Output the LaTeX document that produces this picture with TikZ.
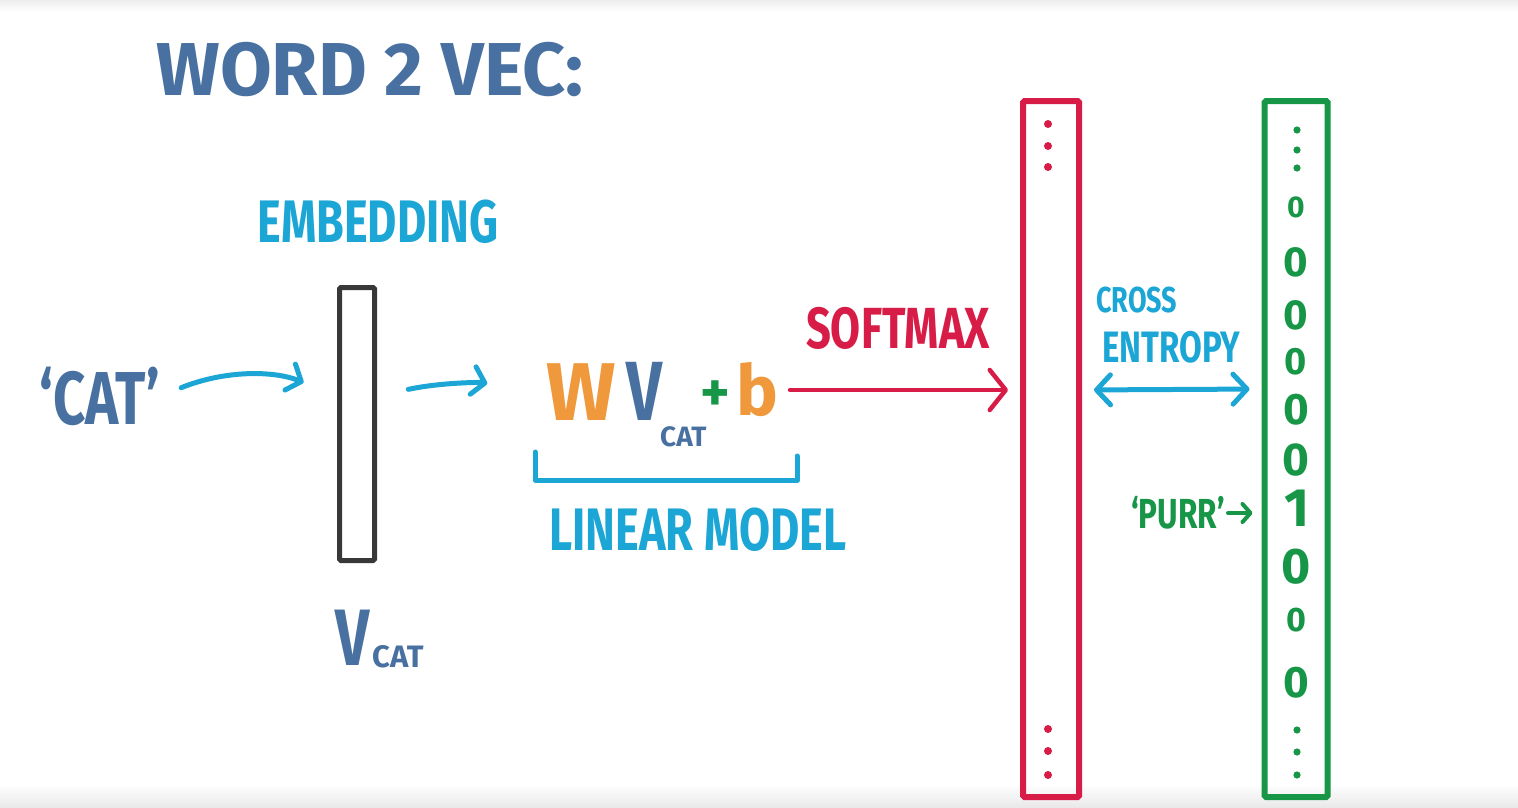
\documentclass[tikz,border=0pt]{standalone}
\usepackage{fontspec}
\usepackage{xcolor}
\setmainfont{Fira Sans}
\newfontfamily\titlefont{Fira Sans}
\newfontfamily\handfont[FakeStretch=0.75]{Fira Sans}
\usetikzlibrary{arrows.meta}

\definecolor{wblue}{RGB}{72,112,160}
\definecolor{wcyan}{RGB}{28,166,214}
\definecolor{worange}{RGB}{240,152,60}
\definecolor{wgreen}{RGB}{22,150,70}
\definecolor{wred}{RGB}{216,28,72}
\definecolor{wgray}{RGB}{56,56,56}

\newcommand{\fsz}[1]{\fontsize{#1}{#1}\selectfont}

\begin{document}
\begin{tikzpicture}[x=1pt,y=-1pt,
  hand/.style={inner sep=0pt, font=\handfont\bfseries},
  plain/.style={inner sep=0pt, font=\titlefont\bfseries},
  vecbox/.style={draw, line width=5pt, inner sep=0pt, rounded corners=1.5pt},
  flow/.style={wcyan, line width=5pt, line cap=round,
    -{Straight Barb[length=12pt,width=28pt,line width=5pt,round]}},
  dotcol/.style={radius=4pt}]
\useasboundingbox (0,0) rectangle (1518,808);
\shade[top color=black!7, bottom color=white] (0,0) rectangle (1518,12);
\shade[top color=white, bottom color=black!9] (0,784) rectangle (1518,808);

% Title
\node[plain, wblue] (title) at (370,70) {\fsz{75}WORD 2 VEC:};

% Input word and embedding vector
\node[hand, wblue] (cat) at (100,396) {\fsz{75}‘CAT’};
\node[hand, wcyan] (embtxt) at (378,222) {\fsz{60}EMBEDDING};
\node[vecbox, wgray, minimum width=35, minimum height=273] (emb) at (357,424) {};
\node[hand, wblue, anchor=base west] (vemb) at (335,665) {\fsz{80}V};
\node[plain, wblue, anchor=base west] (vembsub) at (372,667) {\fsz{31}CAT};

% Linear model W V + b
\node[plain, worange, anchor=base west] (w) at (546,420) {\fsz{82}W};
\node[hand, wblue, anchor=base west] (vlin) at (626,420) {\fsz{84}V};
\node[plain, wblue, anchor=base west] (vlinsub) at (660,446) {\fsz{28}CAT};
\node[plain, wgreen] (plus) at (715,396) {\fsz{56}+};
\node[plain, worange, anchor=base west] (bias) at (736,415) {\fsz{70}b};
\draw[wcyan, line width=5pt, line cap=round, line join=round]
  (535,452) -- (535,480) -- (797,480) -- (797,456);
\node[hand, wcyan] (lintxt) at (698,530) {\fsz{60}LINEAR MODEL};

% Softmax vector
\node[vecbox, wred, line width=6pt, minimum width=56, minimum height=696] (soft) at (1051,449) {};
\foreach \y in {124,146,167,729,751,775}
  \fill[wred] (1048,\y) circle[dotcol];
\coordinate (smin) at (790,390);
\node[hand, wred] (smtxt) at (898,328) {\fsz{58}SOFTMAX};

% One-hot target vector
\node[vecbox, wgreen, line width=6pt, minimum width=63, minimum height=696] (target) at (1296,449) {};
\foreach \y in {130,150,168,730,752,775}
  \fill[wgreen] (1297,\y) circle[radius=3.6pt];
\foreach \y/\s in {207/30, 262/42, 315/42, 362/38, 410/44, 460/46, 567/50, 620/34, 683/44}
  \node[plain, wgreen] at (1296,\y) {\fsz{\s}0};
\node[plain, wgreen] (one) at (1297,508) {\fsz{54}1};
\node[hand, wgreen] (purr) at (1178,513) {\fsz{42}‘PURR’};

% Cross entropy
\node[hand, wcyan, anchor=west] (cross) at (1096,300) {\fsz{36}CROSS};
\node[hand, wcyan, anchor=west] (entropy) at (1102,347) {\fsz{44}ENTROPY};

% Arrows
\draw[flow, shorten <=22pt, shorten >=36pt] (cat.east) to[bend left=22] (emb.west |- cat.east);
\draw[flow, shorten <=32pt, shorten >=60pt] (emb.east |- cat.east) to[bend left=12] (w.west |- cat.east);
\draw[wred, line width=4.5pt, line cap=round, shorten >=12pt,
  -{Straight Barb[length=16pt,width=40pt,line width=4.5pt,round]}] (smin) -- (smin -| soft.west);
\draw[wcyan, line width=5pt, line cap=round, shorten <=12pt, shorten >=12pt,
  {Straight Barb[length=14pt,width=30pt,line width=5pt,round]}-{Straight Barb[length=14pt,width=30pt,line width=5pt,round]}]
  (soft.east |- 0,390) -- (target.west |- 0,389);
\draw[wgreen, line width=4pt, line cap=round, shorten <=3pt, shorten >=9pt,
  -{Straight Barb[length=8pt,width=18pt,line width=4pt,round]}] (purr.east) -- (purr.east -| target.west);
\end{tikzpicture}
\end{document}
